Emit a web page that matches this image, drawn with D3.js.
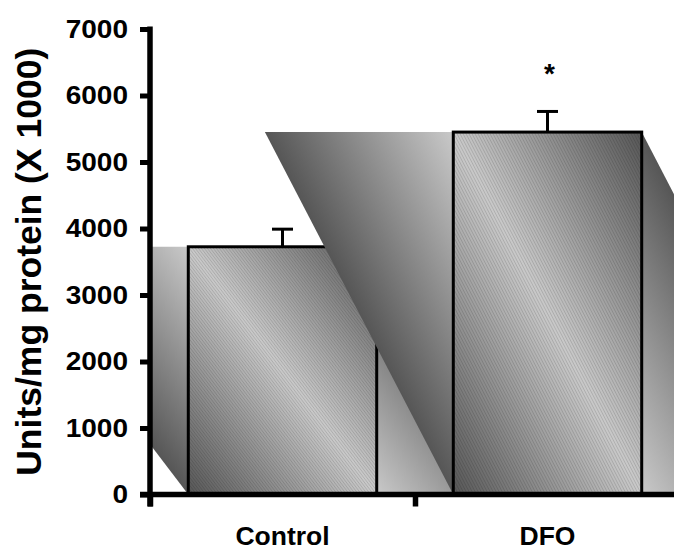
<!DOCTYPE html>
<html>
<head>
<meta charset="utf-8">
<script src="https://cdn.jsdelivr.net/npm/d3@7"></script>
<style>
  html, body { margin: 0; padding: 0; background: #fff; }
  svg { display: block; font-family: "Liberation Sans", Arial, sans-serif; font-weight: bold; }
</style>
</head>
<body>
<div id="chart"></div>
<script>
const categories = ["Control", "DFO"];
const values = [3725, 5450];
const errors = [265, 310];
const marks = ["", "*"];
const yTicks = [0, 1000, 2000, 3000, 4000, 5000, 6000, 7000];
const yTitle = "Units/mg protein (X 1000)";

const W = 674, H = 551;
const margin = { top: 29, left: 150, bottom: 56.5 };
const plotRight = 680;

const svg = d3.select("#chart").append("svg")
    .attr("width", W)
    .attr("height", H);

const defs = svg.append("defs");

const x = d3.scaleBand()
    .domain(categories)
    .range([margin.left, plotRight])
    .paddingInner(0.289)
    .paddingOuter(0.1445);

const y = d3.scaleLinear()
    .domain([0, 7000])
    .range([H - margin.bottom, margin.top]);

// gradient that runs across the sheared band (dark - light - dark)
const grad = defs.append("linearGradient")
    .attr("id", "shade")
    .attr("x1", 0).attr("x2", 1).attr("y1", 0).attr("y2", 0);
grad.append("stop").attr("offset", 0).attr("stop-color", "#565656");
grad.append("stop").attr("offset", 0.5).attr("stop-color", "#c9c9c9");
grad.append("stop").attr("offset", 1).attr("stop-color", "#565656");

defs.append("clipPath").attr("id", "plotClip")
    .append("rect")
    .attr("x", margin.left)
    .attr("y", 0)
    .attr("width", W - margin.left)
    .attr("height", y(0));

const plot = svg.append("g").attr("clip-path", "url(#plotClip)");

categories.forEach((c, i) => {
    const x0 = x(c);
    const w = x.bandwidth();
    const top = y(values[i]);
    const h = y(0) - top;
    const skew = Math.atan(w / h) * 180 / Math.PI;

    // fine hatching for the bar face
    const pat = defs.append("pattern")
        .attr("id", "hatch" + i)
        .attr("patternUnits", "userSpaceOnUse")
        .attr("width", 3)
        .attr("height", 3)
        .attr("patternTransform", `skewX(${skew})`);
    pat.append("rect")
        .attr("width", 1).attr("height", 3)
        .attr("fill", "rgba(0,0,0,0.13)");

    // sheared gradient band behind the bar
    plot.append("g")
        .attr("transform", `translate(${x0},${y(0)}) skewX(${skew})`)
        .append("rect")
        .attr("x", 0)
        .attr("y", -h)
        .attr("width", 2 * w)
        .attr("height", h)
        .attr("fill", "url(#shade)");

    // bar
    plot.append("rect")
        .attr("x", x0)
        .attr("y", top)
        .attr("width", w)
        .attr("height", h)
        .attr("fill", `url(#hatch${i})`)
        .attr("stroke", "#000")
        .attr("stroke-width", 3);

    // error bar
    const cx = x0 + w / 2;
    plot.append("line")
        .attr("x1", cx).attr("x2", cx)
        .attr("y1", top).attr("y2", y(values[i] + errors[i]))
        .attr("stroke", "#000").attr("stroke-width", 3);
    plot.append("line")
        .attr("x1", cx - 10.5).attr("x2", cx + 10.5)
        .attr("y1", y(values[i] + errors[i])).attr("y2", y(values[i] + errors[i]))
        .attr("stroke", "#000").attr("stroke-width", 3);

    if (marks[i]) {
        svg.append("text")
            .attr("x", cx + 2)
            .attr("y", y(values[i] + errors[i]) - 28)
            .attr("text-anchor", "middle")
            .style("font-size", "28px")
            .text(marks[i]);
    }
});

// y axis
const sx = 1.12;
const yAxis = svg.append("g")
    .attr("transform", `translate(${margin.left},0)`)
    .call(d3.axisLeft(y).tickValues(yTicks).tickSize(10).tickSizeOuter(0).tickFormat(d3.format("d")));
yAxis.select(".domain").remove();
yAxis.selectAll(".tick line").attr("stroke", "#000").attr("stroke-width", 5);
yAxis.selectAll(".tick text")
    .attr("x", -22 / sx)
    .attr("transform", `scale(${sx},1)`)
    .attr("fill", "#000")
    .style("font-size", "25px")
    .style("font-weight", "bold")
    .style("font-family", "'Liberation Sans', Arial, sans-serif");

// boundary ticks under the x axis
const xEdges = d3.scaleLinear().domain([0, categories.length]).range([margin.left, plotRight]);
const xTickAxis = svg.append("g")
    .attr("transform", `translate(0,${y(0)})`)
    .call(d3.axisBottom(xEdges).tickValues(d3.range(categories.length)).tickSize(12).tickFormat(""));
xTickAxis.select(".domain").remove();
xTickAxis.selectAll(".tick line").attr("stroke", "#000").attr("stroke-width", 5.5);

// axis lines
svg.append("line")
    .attr("x1", margin.left).attr("x2", margin.left)
    .attr("y1", y(7000) - 2.5).attr("y2", y(0) + 12)
    .attr("stroke", "#000").attr("stroke-width", 5.5);
svg.append("line")
    .attr("x1", margin.left - 10).attr("x2", W)
    .attr("y1", y(0)).attr("y2", y(0))
    .attr("stroke", "#000").attr("stroke-width", 5.5);

// category labels
const xAxis = svg.append("g")
    .attr("transform", `translate(0,${y(0)})`)
    .call(d3.axisBottom(x).tickSize(0));
xAxis.select(".domain").remove();
xAxis.selectAll(".tick text")
    .attr("y", 0)
    .attr("dy", 50.5)
    .attr("fill", "#000")
    .style("font-size", "26.5px")
    .style("font-weight", "bold")
    .style("font-family", "'Liberation Sans', Arial, sans-serif");

// y title
svg.append("text")
    .attr("transform", `translate(41,${(y(0) + y(7000)) / 2}) rotate(-90)`)
    .attr("text-anchor", "middle")
    .style("font-size", "35.5px")
    .text(yTitle);
</script>
</body>
</html>
